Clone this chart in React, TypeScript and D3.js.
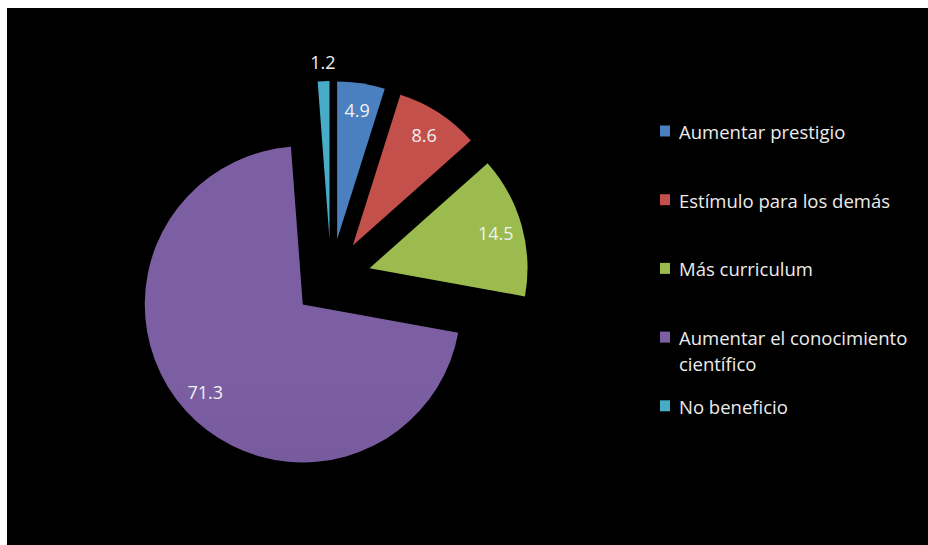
import React from "react";
import * as d3 from "d3";

const categories = [
  "Aumentar prestigio",
  "Estímulo para los demás",
  "Más curriculum",
  "Aumentar el conocimiento científico",
  "No beneficio",
];
const values = [4.9, 8.6, 14.5, 71.3, 1.2];
const valueLabels = ["4.9", "8.6", "14.5", "71.3", "1.2"];
const legendLines = [
  ["Aumentar prestigio"],
  ["Estímulo para los demás"],
  ["Más curriculum"],
  ["Aumentar el conocimiento", "científico"],
  ["No beneficio"],
];
const colors = ["#4a7fc0", "#c4504c", "#9bbb4f", "#7c5fa3", "#46acc8"];
const colorsDark = ["#3d6aa6", "#a8413e", "#84a23f", "#664c8a", "#3592ad"];

const W = 928;
const H = 545;
const cx = 331;
const cy = 279;
const R = 158;
const explode = [40, 40, 40, 38, 40];

export default function App() {
  const pie = d3
    .pie<number>()
    .sort(null)
    .value((d) => d)
    .startAngle(0)
    .endAngle(2 * Math.PI);
  const arcs = pie(values);
  const arc = d3.arc<d3.PieArcDatum<number>>().innerRadius(0).outerRadius(R);

  const font = "'Open Sans', 'DejaVu Sans', sans-serif";

  return (
    <svg
      width={W}
      height={H}
      style={{ position: "absolute", left: 0, top: 0, display: "block" }}
      fontFamily={font}
    >
      <defs>
        {colors.map((c, i) => (
          <linearGradient
            key={i}
            id={`g${i}`}
            gradientUnits="userSpaceOnUse"
            x1={0}
            y1={cy - R - 50}
            x2={0}
            y2={cy + R + 40}
          >
            <stop offset="0%" stopColor={c} />
            <stop offset="100%" stopColor={colorsDark[i]} />
          </linearGradient>
        ))}
      </defs>
      <rect x={0} y={0} width={W} height={H} fill="#ffffff" />
      <rect x={7} y={8} width={W - 7} height={H - 8} fill="#000000" />
      {arcs.map((a, i) => {
        const mid = (a.startAngle + a.endAngle) / 2;
        const ox = cx + explode[i] * Math.sin(mid);
        const oy = cy - explode[i] * Math.cos(mid);
        const isOutside = values[i] < 3;
        const lr = isOutside ? R * 1.12 : R * 0.83;
        const lx = ox + lr * Math.sin(mid);
        const ly = oy - lr * Math.cos(mid);
        return (
          <g key={categories[i]}>
            <path
              d={arc(a) || ""}
              transform={`translate(${ox},${oy})`}
              fill={`url(#g${i})`}
            />
            <text
              x={lx}
              y={ly}
              textAnchor="middle"
              dominantBaseline="central"
              fill="#f0f0f0"
              fontSize={18}
            >
              {valueLabels[i]}
            </text>
          </g>
        );
      })}
      {legendLines.map((lines, i) => {
        const y = 131 + i * 68.7;
        return (
          <g key={i}>
            <rect x={660} y={y - 5.5} width={10} height={11} fill={colors[i]} />
            {lines.map((l, j) => (
              <text
                key={j}
                x={679}
                y={y + 8 + j * 26}
                fill="#ececec"
                fontSize={18.5}
              >
                {l}
              </text>
            ))}
          </g>
        );
      })}
    </svg>
  );
}
